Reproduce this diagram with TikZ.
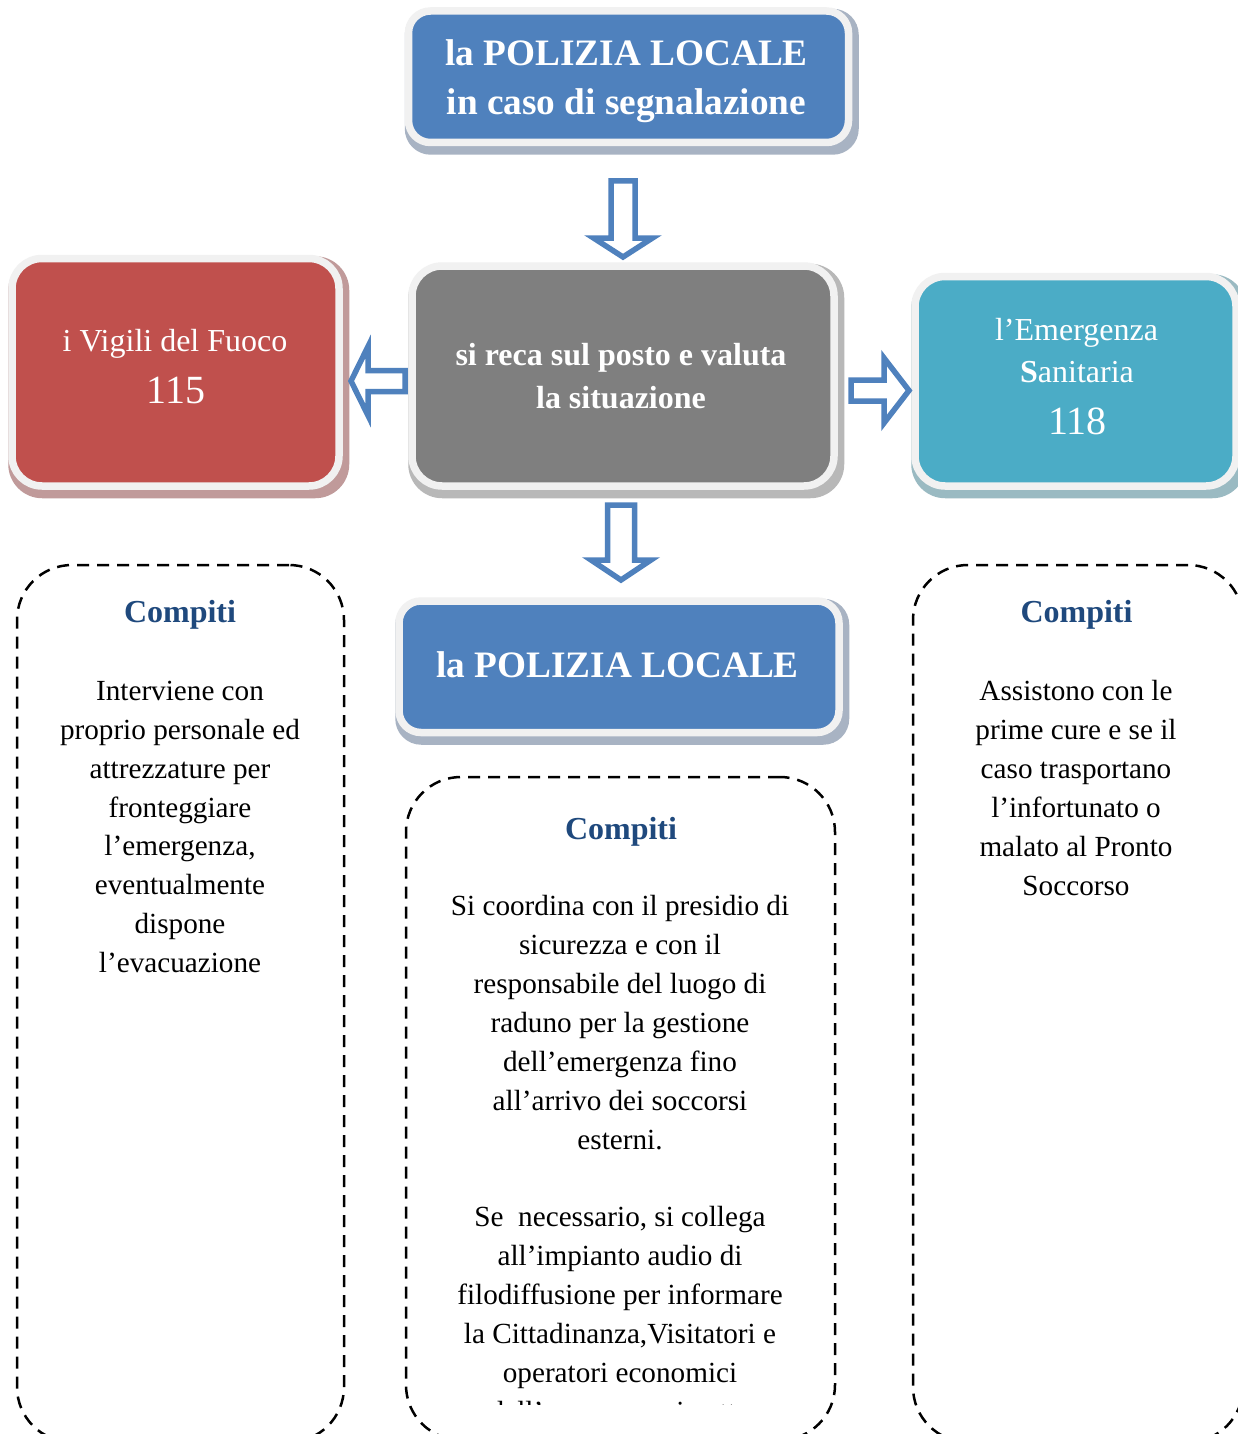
\documentclass[tikz,border=0pt]{standalone}
\usepackage{fontspec}
\setmainfont{Liberation Serif}
\usetikzlibrary{calc}
\definecolor{pblue}{HTML}{4F81BD}
\definecolor{pred}{HTML}{C0504D}
\definecolor{pteal}{HTML}{4BACC6}
\definecolor{pgray}{HTML}{7F7F7F}
\definecolor{pframe}{HTML}{F1F1F1}
\definecolor{ptitle}{HTML}{1F497D}
\definecolor{shblue}{HTML}{A8B3C3}
\definecolor{shred}{HTML}{C09A9A}
\definecolor{shteal}{HTML}{9ABAC2}
\definecolor{shgray}{HTML}{B8B8B8}
\pgfdeclarelayer{back}
\pgfdeclarelayer{shad}
\pgfsetlayers{back,shad,main}
\newcommand{\fsz}[2]{\fontsize{#1}{#2}\selectfont}
\newcommand{\boxshadow}[3]{\fill[#2, rounded corners=#3] ($(#1.north west)+(0,1.5)$) rectangle ($(#1.south east)+(6.5,8.5)$);}
\begin{document}
\begin{tikzpicture}[x=1pt,y=-1pt,
  panel/.style={draw=pframe, line width=7.5pt, inner sep=0pt},
  barrow/.style={draw=pblue, fill=white, line width=5.5pt},
  dashbox/.style={draw=black, line width=2.5pt, dash pattern=on 12pt off 8pt, rounded corners=55pt, inner sep=0pt},
  wtxt/.style={text=white, align=center, inner sep=0pt},
  btxt/.style={text=black, align=center, inner sep=0pt, font=\fsz{29.2}{38.9}},
  headtxt/.style={text=ptitle, font=\fsz{32}{38}\bfseries, inner sep=0pt}]
\useasboundingbox (0,0) rectangle (1237,1434);
\begin{pgfonlayer}{back}
\fill[white] (0,0) rectangle (1237,1434);
\end{pgfonlayer}

% panels
\node[panel, fill=pblue, rounded corners=22pt, minimum width=440pt, minimum height=131.5pt] (top) at (628.5,76.75) {};
\node[panel, fill=pgray, rounded corners=30pt, minimum width=422pt, minimum height=220pt] (mid) at (623,376) {};
\node[panel, fill=pred, rounded corners=30pt, minimum width=327pt, minimum height=227.5pt] (vvf) at (175.5,372.25) {};
\node[panel, fill=pteal, rounded corners=30pt, minimum width=321pt, minimum height=209.5pt] (san) at (1075.5,381.25) {};
\node[panel, fill=pblue, rounded corners=22pt, minimum width=440pt, minimum height=131.5pt] (pl) at (619,666.75) {};

\begin{pgfonlayer}{shad}
\boxshadow{top}{shblue}{26pt}
\boxshadow{mid}{shgray}{34pt}
\boxshadow{vvf}{shred}{34pt}
\boxshadow{san}{shteal}{34pt}
\boxshadow{pl}{shblue}{26pt}
\end{pgfonlayer}

% panel texts
\node[wtxt, font=\fsz{37.3}{48.5}\bfseries] (topT) at (626.5,81) {la POLIZIA LOCALE\\in caso di segnalazione};
\node[wtxt, font=\fsz{32}{43}\bfseries] (midT) at (621,376) {si reca sul posto e valuta\\la situazione};
\node[wtxt, font=\fsz{32}{38}] (vvfA) at (175,344) {i Vigili del Fuoco};
\node[wtxt, font=\fsz{40}{46}] (vvfB) at (176,390) {115};
\node[wtxt, font=\fsz{32}{38}] (sanA) at (1076.5,333) {l’Emergenza};
\node[wtxt, font=\fsz{32}{38}] (sanB) at (1077,372) {\textbf{S}anitaria};
\node[wtxt, font=\fsz{40}{46}] (sanC) at (1077.5,421) {118};
\node[wtxt, font=\fsz{37.3}{48.5}\bfseries] (plT) at (617.5,665) {la POLIZIA LOCALE};

% block arrows
\draw[barrow] (611,181) -- (635,181) -- (635,238) -- (652.5,238) -- (623,257) -- (593.5,238) -- (611,238) -- cycle;
\draw[barrow] (607.5,505) -- (634.5,505) -- (634.5,560) -- (651,560) -- (621,580) -- (591,560) -- (607.5,560) -- cycle;
\draw[barrow] (405,370.5) -- (405,391.5) -- (368,391.5) -- (368,415.5) -- (351,381) -- (368,346.5) -- (368,370.5) -- cycle;
\draw[barrow] (851,380) -- (851,401) -- (884,401) -- (884,423) -- (909,390.5) -- (884,358) -- (884,380) -- cycle;

% dashed task boxes
\node[dashbox, minimum width=327pt, minimum height=877pt] (boxL) at (180.5,1003.5) {};
\node[dashbox, minimum width=429pt, minimum height=663pt] (boxM) at (620.5,1108.5) {};
\node[dashbox, minimum width=330pt, minimum height=877pt] (boxR) at (1078,1003.5) {};

\node[headtxt] (hL) at (180,615) {Compiti};
\node[headtxt] (hM) at (621,832) {Compiti};
\node[headtxt] (hR) at (1076.5,615) {Compiti};

\node[btxt] (tL) at (180,827) {Interviene con\\proprio personale ed\\attrezzature per\\fronteggiare\\l’emergenza,\\eventualmente\\dispone\\l’evacuazione};
\node[btxt] (tR) at (1076,788) {Assistono con le\\prime cure e se il\\caso trasportano\\l’infortunato o\\malato al Pronto\\Soccorso};
\begin{scope}
\clip (406,790) rectangle (835,1404);
\node[btxt] (tM) at (620,1161.5) {Si coordina con il presidio di\\sicurezza e con il\\responsabile del luogo di\\raduno per la gestione\\dell’emergenza fino\\all’arrivo dei soccorsi\\esterni.\\[38.9pt]Se\ \ necessario, si collega\\all’impianto audio di\\filodiffusione per informare\\la Cittadinanza,Visitatori e\\operatori economici\\dell’emergenza in atto};
\end{scope}
\end{tikzpicture}
\end{document}
